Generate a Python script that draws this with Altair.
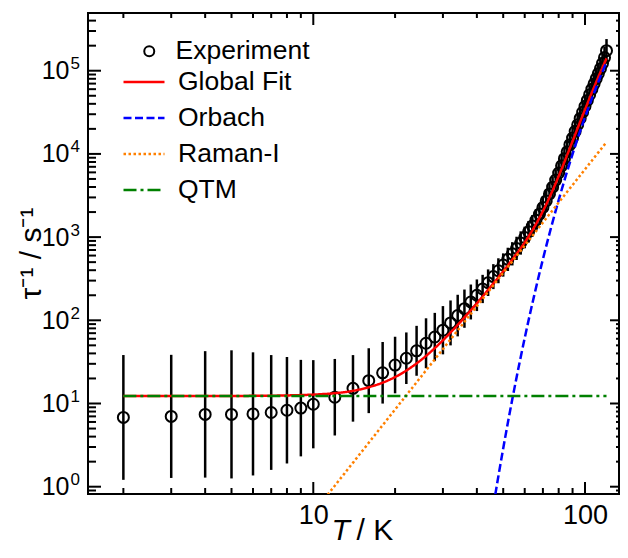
import math
import altair as alt
import pandas as pd

# ---------------- data ----------------
T_exp = [2, 3, 4, 5, 6, 7, 8, 9, 10,
         12, 14, 16, 18, 20, 22, 24, 26, 28, 30,
         32, 34, 36, 38, 40, 42, 44, 46, 48, 50,
         52, 54, 56, 58, 60, 62, 64, 66, 68, 70,
         72, 74, 76, 78, 80, 82, 84, 86, 88, 90,
         92, 94, 96, 98, 100, 102, 104, 106, 108, 110,
         112, 114, 116, 118, 120]
rate_exp = [6.8, 7.0, 7.4, 7.4, 7.5, 7.8, 8.3, 8.8, 9.8,
            11.9, 15.2, 18.8, 23.4, 29, 35, 43, 53, 63, 76,
            93, 114, 138, 166, 200, 238, 283, 335, 394, 462,
            540, 630, 732, 850, 990, 1160, 1360, 1600, 1890, 2270,
            2720, 3300, 3980, 4850, 5900, 7200, 8770, 10600, 12900, 15500,
            18700, 22400, 26700, 31700, 37400, 44000, 51500, 60000, 69600, 80400,
            92300, 105800, 122700, 144000, 174000]
# half-length of the error bars, in decades
err_dex = [0.75, 0.74, 0.76, 0.77, 0.74, 0.69, 0.64, 0.58, 0.53,
           0.46, 0.40, 0.39, 0.37, 0.34, 0.31, 0.30, 0.30, 0.29, 0.29,
           0.27, 0.25, 0.23, 0.21, 0.19, 0.17, 0.16, 0.15, 0.15, 0.14,
           0.14, 0.14, 0.14, 0.14, 0.13, 0.13, 0.13, 0.13, 0.13, 0.13,
           0.13, 0.13, 0.13, 0.13, 0.13, 0.13, 0.13, 0.13, 0.13, 0.13,
           0.13, 0.13, 0.13, 0.13, 0.13, 0.13, 0.13, 0.13, 0.13, 0.13,
           0.13, 0.13, 0.13, 0.13, 0.14]

fit_T = [2, 4, 6, 8, 10, 12, 14, 16, 18, 20, 25, 30, 35, 40, 45, 50, 55, 60,
         65, 70, 75, 80, 85, 90, 95, 100, 105, 110, 115, 120]
fit_rate = [12.3, 12.3, 12.36, 12.5, 12.8, 13.3, 14.2, 15.7, 17.8, 20.8, 33.6,
            57.5, 97.8, 160, 254, 388, 581, 864, 1312, 2050, 3300, 5400, 8820,
            14190, 22320, 34080, 50660, 73100, 102600, 140700]

orbach_T = [46, 50, 55, 60, 65, 70, 75, 80, 85, 90, 95, 100, 105, 110, 115, 120]
orbach_rate = [0.586, 2.88, 15.3, 61.2, 198, 542, 1297, 2786, 5470, 9950,
               17020, 27540, 42660, 63400, 90990, 126800]

raman_T = [11, 20, 40, 60, 80, 100, 120]
raman_rate = [0.718, 8.47, 148, 791, 2600, 6530, 13870]

qtm_T = [2, 120]
qtm_rate = [12.3, 12.3]

line_names = ["Global Fit", "Orbach", "Raman-I", "QTM"]
line_colors = ["#ff0000", "#0000ff", "#ff8000", "#008000"]
line_dashes = [[1, 0], [8, 3.5], [2.5, 2.5], [13, 4, 3, 4]]

x_major = [10, 100]
x_minor = [2, 3, 4, 5, 6, 7, 8, 9, 20, 30, 40, 50, 60, 70, 80, 90]
y_major = [1, 10, 100, 1000, 10000, 100000]
y_minor = [0.9] + [k * 10 ** e for e in range(0, 5) for k in range(2, 10)] + [2e5, 3e5, 4e5]

# ---------------- frames ----------------
exp_df = pd.DataFrame({"T": T_exp, "rate": rate_exp, "err": err_dex})
exp_df["lo"] = exp_df["rate"] / 10 ** exp_df["err"]
exp_df["hi"] = exp_df["rate"] * 10 ** exp_df["err"]
exp_df["series"] = "Experiment"

def curve(name, T, r):
    return pd.DataFrame({"T": T, "rate": r, "series": name})

fit_df = curve("Global Fit", fit_T, fit_rate)
orb_df = curve("Orbach", orbach_T, orbach_rate)
ram_df = curve("Raman-I", raman_T, raman_rate)
qtm_df = curve("QTM", qtm_T, qtm_rate)

W, H = 531, 481
FONT = "Liberation Sans"
XMIN, XMAX = 1.482, 133.4
YMIN, YMAX = 0.817, 4.94e5
xs = alt.Scale(type="log", domain=[XMIN, XMAX], nice=False)
ys = alt.Scale(type="log", domain=[YMIN, YMAX], nice=False)
XDEC = W / (math.log10(XMAX) - math.log10(XMIN))   # pixels per decade
YDEC = H / (math.log10(YMAX) - math.log10(YMIN))

TITLE_Y = 45
ax_x_labels = alt.Axis(orient="bottom", values=x_major, format="d", ticks=False,
                       domain=False, grid=False, labelFontSize=27, labelPadding=8,
                       labelFont=FONT, labelColor="black",
                       title="T", titleFontStyle="italic", titleFontSize=30,
                       titleFontWeight="normal", titleFont=FONT, titleColor="black",
                       titleX=243, titleY=TITLE_Y, titleAlign="left",
                       titleBaseline="alphabetic", titleAngle=0)
ax_x_title2 = alt.Axis(orient="bottom", values=x_major, ticks=False, labels=False,
                       domain=False, grid=False,
                       title="/ K", titleFontSize=30,
                       titleFontWeight="normal", titleFont=FONT, titleColor="black",
                       titleX=268, titleY=TITLE_Y, titleAlign="left",
                       titleBaseline="alphabetic", titleAngle=0)
ax_y_labels = alt.Axis(orient="left", values=y_major, labelExpr="'10'", ticks=False,
                       domain=False, grid=False, labelFontSize=25, labelPadding=19,
                       labelFont=FONT, labelColor="black", labelAlign="right",
                       labelBaseline="middle",
                       title="τ⁻¹ / s⁻¹", titleFontSize=30, titleFont=FONT,
                       titleFontWeight="normal", titleColor="black",
                       titleX=-57, titleY=240, titleAngle=270, titleAlign="center",
                       titleBaseline="middle")
ax_y_exp = alt.Axis(orient="left", values=y_major,
                    labelExpr="'' + round(log(datum.value) / LN10)", ticks=False,
                    domain=False, grid=False, labelFontSize=17, labelPadding=18,
                    labelFont=FONT, labelColor="black", labelAlign="left",
                    labelBaseline="middle", labelOffset=-7, title=None)

line_legend = alt.Legend(orient="none", legendX=34, legendY=47, title=None,
                         symbolType="stroke", symbolSize=1681, symbolStrokeWidth=2.5,
                         labelFontSize=26.5, labelFont=FONT, labelColor="black",
                         labelOffset=12, rowPadding=0, padding=0)
color_enc = alt.Color("series:N", scale=alt.Scale(domain=line_names, range=line_colors),
                      legend=line_legend)
dash_enc = alt.StrokeDash("series:N", scale=alt.Scale(domain=line_names, range=line_dashes),
                          legend=line_legend)

errbars = alt.Chart(exp_df).mark_rule(color="black", strokeWidth=2.5).encode(
    x=alt.X("T:Q", scale=xs, axis=ax_x_labels),
    y=alt.Y("lo:Q", scale=ys, axis=ax_y_labels),
    y2="hi:Q",
)

points = alt.Chart(exp_df).mark_point(filled=False, color="black", size=121,
                                      strokeWidth=2, opacity=1).encode(
    x=alt.X("T:Q", scale=xs, axis=ax_x_title2),
    y=alt.Y("rate:Q", scale=ys, axis=ax_y_exp),
    shape=alt.Shape("series:N", scale=alt.Scale(domain=["Experiment"], range=["circle"]),
                    legend=alt.Legend(orient="none", legendX=48, legendY=25, title=None,
                                      symbolSize=100, symbolStrokeWidth=2,
                                      symbolStrokeColor="black",
                                      symbolFillColor="transparent",
                                      labelFontSize=26.5, labelFont=FONT,
                                      labelColor="black", labelOffset=13, padding=0)),
)

def line_layer(df):
    return alt.Chart(df).mark_line(strokeWidth=2.5, clip=True, interpolate="monotone").encode(
        x=alt.X("T:Q", scale=xs, axis=None),
        y=alt.Y("rate:Q", scale=ys, axis=None),
        color=color_enc,
        strokeDash=dash_enc,
    )

# inward tick marks on the four edges, drawn through the same log scales
def x_ticks(values, bottom, length):
    f = 10 ** (length / YDEC)
    a, b = (YMIN, YMIN * f) if bottom else (YMAX, YMAX / f)
    df = pd.DataFrame({"v": values, "a": a, "b": b})
    return alt.Chart(df).mark_rule(color="black", strokeWidth=2, opacity=1).encode(
        x=alt.X("v:Q", scale=xs, axis=None),
        y=alt.Y("a:Q", scale=ys, axis=None), y2="b:Q")

def y_ticks(values, left, length):
    f = 10 ** (length / XDEC)
    a, b = (XMIN, XMIN * f) if left else (XMAX, XMAX / f)
    df = pd.DataFrame({"v": values, "a": a, "b": b})
    return alt.Chart(df).mark_rule(color="black", strokeWidth=2, opacity=1).encode(
        y=alt.Y("v:Q", scale=ys, axis=None),
        x=alt.X("a:Q", scale=xs, axis=None), x2="b:Q")

ticks = [
    x_ticks(x_major, True, 12), x_ticks(x_minor, True, 6),
    x_ticks(x_major, False, 12), x_ticks(x_minor, False, 5),
    y_ticks(y_major, True, 13), y_ticks(y_minor, True, 8),
    y_ticks(y_major, False, 9), y_ticks(y_minor, False, 3),
]

chart = alt.layer(
    *ticks,
    errbars, points,
    line_layer(fit_df), line_layer(orb_df), line_layer(ram_df), line_layer(qtm_df),
).resolve_axis(
    x="independent", y="independent"
).properties(
    width=W, height=H,
    padding={"left": 80, "top": 5, "right": 1, "bottom": 52},
    autosize=alt.AutoSizeParams(type="none"),
).configure(font=FONT).configure_view(stroke="black", strokeWidth=2)

chart.save("out.html", embed_options={"renderer": "svg", "actions": False})
